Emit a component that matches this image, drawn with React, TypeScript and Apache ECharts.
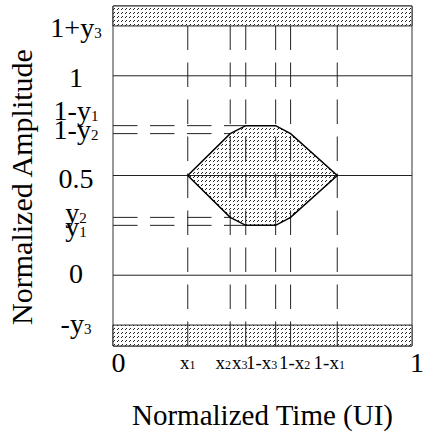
import React, { useEffect, useRef } from 'react';
import * as echarts from 'echarts';

const FONT = 'Liberation Serif';

const Y_MIN = -0.355;
const Y_MAX = 1.35;

// time mask corners (UI)
const xMarks = [0.25, 0.392, 0.444, 0.544, 0.594, 0.75];
const xMarkMain = ['x', 'x', 'x', '1-x', '1-x', '1-x'];
const xMarkSub = ['1', '2', '3', '3', '2', '1'];

// amplitude levels
const solidLevels = [0, 0.5, 1];
const dashLevels = [0.75, 0.71, 0.29, 0.25]; // 1-y1, 1-y2, y2, y1
const dashEnds = [0.444, 0.392, 0.392, 0.444];
const Y3_TOP = 1.25;
const Y3_BOTTOM = -0.25;

// central mask polygon
const octX = [0.25, 0.392, 0.444, 0.544, 0.594, 0.75, 0.594, 0.544, 0.444, 0.392];
const octY = [0.5, 0.71, 0.75, 0.75, 0.71, 0.5, 0.29, 0.25, 0.25, 0.29];

// axis tick labels
const yTickValues = [1.25, 1, 0.75, 0.71, 0.5, 0.29, 0.25, 0, -0.25];
const yTickMain = ['1+y', '1', '1-y', '1-y', '0.5', 'y', 'y', '0', '-y'];
const yTickSub = ['3', '', '1', '2', '', '2', '1', '', '3'];
const yTickShift = [1.5, 1.5, -15, -3.8, 3, -4.7, 0.8, -1.7, -1.5];

const xTickValues = [0, ...xMarks, 1];
const xTickMain = ['0', ...xMarkMain, '1'];
const xTickSub = ['', ...xMarkSub, ''];
const xTickShift = [5.5, 0, -7, -6, -14, 4, -8, 5];

function makeHatch(): HTMLCanvasElement {
  const c = document.createElement('canvas');
  c.width = 4;
  c.height = 4;
  const ctx = c.getContext('2d')!;
  ctx.fillStyle = '#ffffff';
  ctx.fillRect(0, 0, 4, 4);
  ctx.fillStyle = '#222222';
  ctx.fillRect(2, 0, 1, 1);
  ctx.fillRect(1, 1, 1, 1);
  return c;
}

function findIdx(values: number[], v: number) {
  let best = 0;
  let bd = Infinity;
  values.forEach((x, i) => {
    const d = Math.abs(x - v);
    if (d < bd) {
      bd = d;
      best = i;
    }
  });
  return best;
}

export default function App() {
  const ref = useRef<HTMLDivElement>(null);

  useEffect(() => {
    if (!ref.current) return;
    const chart = echarts.init(ref.current, null, { renderer: 'svg' });
    const hatch: any = { image: makeHatch(), repeat: 'repeat' };

    const yRich: any = {};
    const Fy = 28;
    const fy = 15;
    const subDropY = 0.3375 * Fy + 1 - 0.3375 * fy;
    yTickValues.forEach((_, i) => {
      const s = yTickShift[i];
      yRich['m' + i] = {
        fontFamily: FONT, fontSize: Fy, lineHeight: Fy, color: '#000',
        padding: [Math.max(0, 2 * s), 0, Math.max(0, -2 * s), 0],
      };
      const ss = s + subDropY;
      yRich['s' + i] = {
        fontFamily: FONT, fontSize: fy, lineHeight: fy, color: '#000',
        padding: [Math.max(0, 2 * ss), 0, Math.max(0, -2 * ss), 0],
      };
    });

    const xRich: any = {};
    xTickValues.forEach((_, i) => {
      const s = xTickShift[i];
      const big = xTickSub[i] === '';
      const hasSub = !big;
      const padL = s > 0 ? 2 * s : 0;
      const padR = s < 0 ? -2 * s : 0;
      xRich['a' + i] = {
        fontFamily: FONT, fontSize: big ? 28 : 19, lineHeight: 30, color: '#000',
        padding: [0, hasSub ? 0 : padR, 0, padL],
      };
      xRich['b' + i] = {
        fontFamily: FONT, fontSize: 12, lineHeight: 12, color: '#000',
        padding: [6.6, padR, 0, 0],
      };
    });

    const lineStyle = { stroke: '#222', lineWidth: 1 };
    const dash = [24.5, 12.5];

    const bandRender = (_p: any, api: any) => {
      const lo = api.value(0);
      const hi = api.value(1);
      const p0 = api.coord([0, hi]);
      const p1 = api.coord([1, lo]);
      return {
        type: 'rect',
        shape: { x: p0[0], y: p0[1], width: p1[0] - p0[0], height: p1[1] - p0[1] },
        style: { fill: hatch, stroke: '#222', lineWidth: 1 },
      };
    };

    const option: any = {
      animation: false,
      backgroundColor: '#fff',
      textStyle: { fontFamily: FONT },
      grid: {
        left: 113, right: 11, top: 6, bottom: 88,
        show: true, borderColor: '#333', borderWidth: 1,
        containLabel: false, outerBoundsMode: 'none',
      },
      xAxis: {
        type: 'value', min: 0, max: 1,
        name: 'Normalized Time (UI)', nameLocation: 'middle', nameGap: 54,
        nameTextStyle: { fontFamily: FONT, fontSize: 29, color: '#000' },
        axisLine: { show: false }, axisTick: { show: false }, splitLine: { show: false },
        axisLabel: {
          customValues: xTickValues, margin: 1, color: '#000', fontFamily: FONT,
          formatter: (v: number) => {
            const i = findIdx(xTickValues, v);
            return `{a${i}|${xTickMain[i]}}` + (xTickSub[i] ? `{b${i}|${xTickSub[i]}}` : '');
          },
          rich: xRich,
        },
      },
      yAxis: {
        type: 'value', min: Y_MIN, max: Y_MAX,
        name: 'Normalized Amplitude', nameLocation: 'middle', nameGap: 77,
        nameTextStyle: { fontFamily: FONT, fontSize: 30, color: '#000', padding: [0, 22, 0, 0] },
        axisLine: { show: false }, axisTick: { show: false }, splitLine: { show: false },
        axisLabel: {
          customValues: yTickValues, margin: 37, align: 'center', color: '#000', fontFamily: FONT,
          formatter: (v: number) => {
            const i = findIdx(yTickValues, v);
            return `{m${i}|${yTickMain[i]}}` + (yTickSub[i] ? `{s${i}|${yTickSub[i]}}` : '');
          },
          rich: yRich,
        },
      },
      series: [
        {
          type: 'custom', name: 'lower band', z: 1, silent: true,
          data: [[Y_MIN, Y3_BOTTOM]], renderItem: bandRender,
        },
        {
          type: 'custom', name: 'mask fill', z: 2, silent: true,
          data: [[0.5, 0.5]],
          renderItem: (_p: any, api: any) => ({
            type: 'polygon',
            shape: { points: octX.map((x, i) => api.coord([x, octY[i]])) },
            style: { fill: hatch, stroke: 'none' },
          }),
        },
        {
          type: 'custom', name: 'levels', z: 3, silent: true,
          data: solidLevels.map((v) => [0, v]),
          renderItem: (_p: any, api: any) => {
            const v = api.value(1);
            const a = api.coord([0, v]);
            const b = api.coord([1, v]);
            return { type: 'line', shape: { x1: a[0], y1: a[1], x2: b[0], y2: b[1] }, style: lineStyle };
          },
        },
        {
          type: 'custom', name: 'time marks', z: 4, silent: true,
          data: xMarks.map((x) => [x, Y3_TOP]),
          renderItem: (_p: any, api: any) => {
            const x = api.value(0);
            const a = api.coord([x, Y_MIN]);
            const b = api.coord([x, api.value(1)]);
            return { type: 'line', shape: { x1: a[0], y1: a[1], x2: b[0], y2: b[1] }, style: { ...lineStyle, lineDash: dash } };
          },
        },
        {
          type: 'custom', name: 'amplitude marks', z: 4, silent: true,
          data: dashLevels.map((y, i) => [dashEnds[i], y]),
          renderItem: (_p: any, api: any) => {
            const y = api.value(1);
            const a = api.coord([0, y]);
            const b = api.coord([api.value(0), y]);
            return { type: 'line', shape: { x1: a[0], y1: a[1], x2: b[0], y2: b[1] }, style: { ...lineStyle, lineDash: dash } };
          },
        },
        {
          type: 'custom', name: 'mask outline', z: 5, silent: true,
          data: [[0.5, 0.5]],
          renderItem: (_p: any, api: any) => ({
            type: 'polygon',
            shape: { points: octX.map((x, i) => api.coord([x, octY[i]])) },
            style: { fill: 'none', stroke: '#000', lineWidth: 1.5 },
          }),
        },
        {
          type: 'custom', name: 'upper band', z: 6, silent: true,
          data: [[Y3_TOP, Y_MAX]], renderItem: bandRender,
        },
      ],
    };

    chart.setOption(option);
    return () => chart.dispose();
  }, []);

  return (
    <div
      ref={ref}
      style={{ position: 'fixed', left: 0, top: 0, width: 423, height: 434, background: '#fff' }}
    />
  );
}
